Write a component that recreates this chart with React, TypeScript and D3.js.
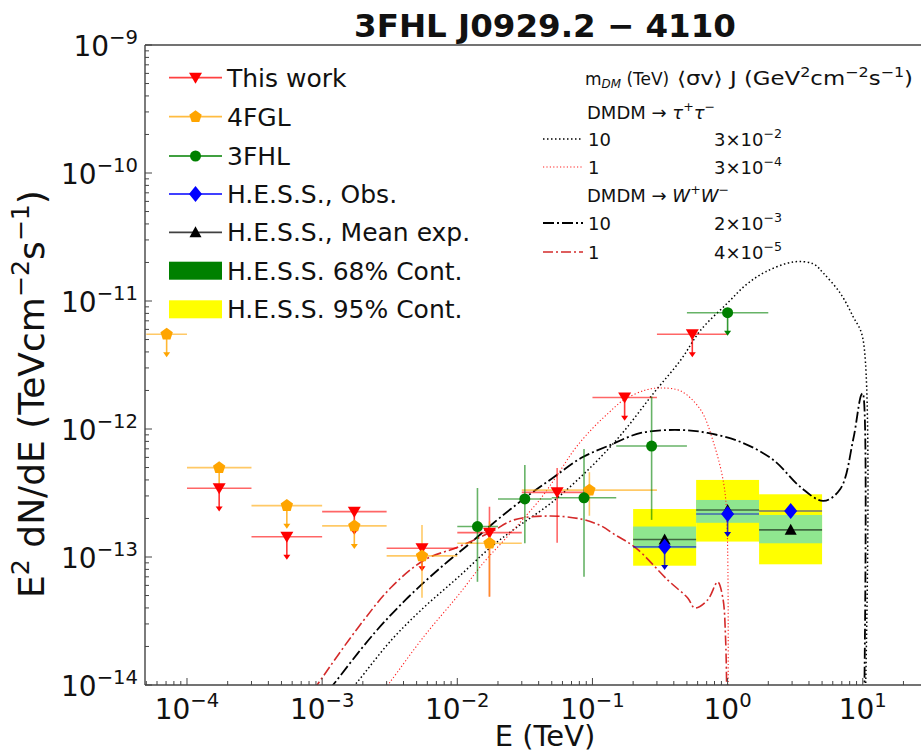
import React from 'react';
import * as d3 from 'd3';

const FONT = '"DejaVu Sans", sans-serif';
const W = 921;
const H = 754;
const plot = { left: 145, right: 945, top: 45, bottom: 685 };

const xDomain = [4.89e-5, 40.6];
const yDomain = [1e-14, 1e-9];

// This work
const twE = [1.73e-4, 5.48e-4, 1.73e-3, 5.48e-3, 1.73e-2, 5.48e-2, 0.173, 0.548];
const twElo = [1e-4, 3e-4, 1e-3, 3e-3, 1e-2, 3e-2, 0.1, 0.3];
const twEhi = [3e-4, 1e-3, 3e-3, 1e-2, 3e-2, 0.1, 0.3, 1];
const twF = [3.44e-13, 1.44e-13, 2.26e-13, 1.17e-13, 1.55e-13, 3.2e-13, 1.76e-12, 5.5e-12];
const twFlo = [null, null, null, null, 4.9e-14, 1.29e-13, null, null];
const twFhi = [null, null, null, null, 2.47e-13, 4.95e-13, null, null];
const twUL = [true, true, true, true, false, false, true, true];

// 4FGL
const fglE = [7.07e-5, 1.73e-4, 5.48e-4, 1.73e-3, 5.48e-3, 1.73e-2, 9.49e-2];
const fglElo = [5e-5, 1e-4, 3e-4, 1e-3, 3e-3, 1e-2, 3e-2];
const fglEhi = [1e-4, 3e-4, 1e-3, 3e-3, 1e-2, 3e-2, 0.3];
const fglF = [5.5e-12, 4.99e-13, 2.52e-13, 1.75e-13, 1.02e-13, 1.28e-13, 3.33e-13];
const fglFlo = [null, null, null, null, 4.8e-14, 4.9e-14, 2.1e-13];
const fglFhi = [null, null, null, null, 1.78e-13, 1.9e-13, 4.6e-13];
const fglUL = [true, true, true, true, false, false, false];

// 3FHL
const fhlE = [1.41e-2, 3.16e-2, 8.66e-2, 0.274, 1.0];
const fhlElo = [0.01, 0.02, 0.05, 0.15, 0.5];
const fhlEhi = [0.02, 0.05, 0.15, 0.5, 2.0];
const fhlF = [1.73e-13, 2.84e-13, 2.9e-13, 7.36e-13, 8.1e-12];
const fhlFlo = [6.4e-14, 1.28e-13, 7.0e-14, 1.95e-13, null];
const fhlFhi = [3.46e-13, 5.24e-13, 6.98e-13, 1.79e-12, null];
const fhlUL = [false, false, false, false, true];

// H.E.S.S.
const hessE = [0.342, 1.0, 2.93];
const hessElo = [0.2, 0.585, 1.71];
const hessEhi = [0.585, 1.71, 5.0];
const hessObs = [1.2e-13, 2.17e-13, 2.29e-13];
const hessObsUL = [true, true, false];
const hessMean = [1.37e-13, 2.33e-13, 1.63e-13];
const hess68lo = [1.17e-13, 1.85e-13, 1.28e-13];
const hess68hi = [1.73e-13, 2.79e-13, 2.13e-13];
const hess95lo = [8.55e-14, 1.32e-13, 8.77e-14];
const hess95hi = [2.37e-13, 4.0e-13, 3.09e-13];

// DM spectra [E (TeV), E^2 dN/dE]
const tau10: [number, number][] = [
  [1.3e-3, 7e-15], [1.8e-3, 1.04e-14], [3.26e-3, 2.25e-14], [5.71e-3, 4.07e-14],
  [1.02e-2, 6.98e-14], [1.78e-2, 1.2e-13], [2.72e-2, 1.69e-13], [4.94e-2, 2.64e-13],
  [9.27e-2, 4.79e-13], [0.162, 8.98e-13], [0.284, 1.91e-12], [0.45, 3.46e-12],
  [0.633, 5.93e-12], [1.0, 9.65e-12], [1.36, 1.33e-11], [1.91, 1.69e-11],
  [3.07, 2.02e-11], [4.31, 1.95e-11], [5.11, 1.65e-11], [6.82, 1.15e-11],
  [8.51, 7.5e-12], [10, 5.14e-12], [10, 1e-15],
];
const tau1: [number, number][] = [
  [2.37e-3, 7e-15], [3.15e-3, 1.04e-14], [5.71e-3, 2.42e-14], [1.02e-2, 5.05e-14],
  [1.58e-2, 9.14e-14], [2.3e-2, 1.41e-13], [3.12e-2, 2.02e-13], [4.17e-2, 2.89e-13],
  [5.56e-2, 4.45e-13], [7.3e-2, 6.85e-13], [9.75e-2, 9.82e-13], [0.131, 1.33e-12],
  [0.171, 1.69e-12], [0.249, 2.02e-12], [0.32, 2.09e-12], [0.45, 1.98e-12],
  [0.632, 1.41e-12], [0.788, 7.78e-13], [0.934, 3.79e-13], [0.99, 1.84e-13], [1.0, 1e-15],
];
const ww10: [number, number][] = [
  [9.3e-4, 7e-15], [1.24e-3, 1.04e-14], [2.44e-3, 2.55e-14], [4.35e-3, 4.87e-14],
  [7.62e-3, 8.35e-14], [1.33e-2, 1.36e-13], [1.78e-2, 1.78e-13], [3.23e-2, 2.94e-13],
  [5.2e-2, 4.22e-13], [8.22e-2, 5.93e-13], [0.13, 7.36e-13], [0.228, 9.31e-13],
  [0.45, 9.82e-13], [0.711, 9.31e-13], [1.25, 7.91e-13], [2.18, 5.73e-13],
  [3.46, 3.52e-13], [5.11, 2.74e-13], [6.82, 3.4e-13], [8.51, 8.35e-13],
  [9.75, 1.85e-12], [10, 1.9e-12], [10, 1e-15],
];
const ww1: [number, number][] = [
  [7.3e-4, 7e-15], [9.42e-4, 1.04e-14], [1.86e-3, 2.84e-14], [3.26e-3, 5.83e-14],
  [5.71e-3, 9.48e-14], [1.02e-2, 1.2e-13], [1.78e-2, 1.57e-13], [2.63e-2, 1.95e-13],
  [4.78e-2, 2.09e-13], [8.22e-2, 1.98e-13], [0.116, 1.75e-13], [0.144, 1.51e-13],
  [0.209, 1.18e-13], [0.361, 6.6e-14], [0.507, 4.78e-14], [0.571, 4.0e-14],
  [0.711, 4.61e-14], [0.844, 6.38e-14], [0.919, 4.87e-14], [0.967, 2.25e-14], [1.0, 1e-15],
];

const UL_DROP = 0.66;

const x = d3.scaleLog().domain(xDomain).range([plot.left, plot.right]);
const y = d3.scaleLog().domain(yDomain).range([plot.bottom, plot.top]);

type Seg = { t: string; sup?: boolean; sub?: boolean; it?: boolean };

function Rich({ x, y, size, segs, anchor = 'start', weight, transform, fit }: any) {
  let cur = 0;
  return (
    <text x={x} y={y} fontSize={size} textAnchor={anchor} fontFamily={FONT}
      fontWeight={weight} fill="#111" transform={transform}
      textLength={fit} lengthAdjust={fit ? 'spacingAndGlyphs' : undefined}>
      {segs.map((s: Seg, i: number) => {
        const target = s.sup ? -size * 0.42 : s.sub ? size * 0.2 : 0;
        const dy = target - cur;
        cur = target;
        return (
          <tspan key={i} dy={dy} fontSize={s.sup || s.sub ? size * 0.7 : size}
            fontStyle={s.it ? 'italic' : undefined}>{s.t}</tspan>
        );
      })}
    </text>
  );
}

function Marker({ type, cx, cy, color }: any) {
  if (type === 'o') return <circle cx={cx} cy={cy} r={5.5} fill={color} />;
  let d = '';
  if (type === 'v') d = 'M-6.5,-5L6.5,-5L0,6Z';
  if (type === '^') d = 'M0,-6L6,5L-6,5Z';
  if (type === 'D') d = 'M0,-8L6.5,0L0,8L-6.5,0Z';
  if (type === 'p') {
    d = d3.range(5).map(k => {
      const a = -Math.PI / 2 + (k * 2 * Math.PI) / 5;
      return `${k ? 'L' : 'M'}${(6.5 * Math.cos(a)).toFixed(2)},${(6.5 * Math.sin(a)).toFixed(2)}`;
    }).join('') + 'Z';
  }
  return <path d={d} transform={`translate(${cx},${cy})`} fill={color} />;
}

function ErrSeries({ E, Elo, Ehi, F, Flo, Fhi, UL, barColor, barOpacity = 0.6 }: any) {
  return (
    <g>
      {E.map((e: number, i: number) => {
        const cx = x(e), cy = y(F[i]);
        const tip = y(F[i] * UL_DROP);
        return (
          <g key={i}>
            <line x1={x(Elo[i])} x2={x(Ehi[i])} y1={cy} y2={cy} stroke={barColor}
              strokeOpacity={barOpacity} strokeWidth={1.6} />
            {Flo && Flo[i] != null && (
              <line x1={cx} x2={cx} y1={y(Flo[i])} y2={y(Fhi[i])} stroke={barColor}
                strokeOpacity={barOpacity} strokeWidth={1.6} />
            )}
            {UL[i] && (
              <g>
                <line x1={cx} x2={cx} y1={cy} y2={tip - 4} stroke={barColor}
                  strokeOpacity={barOpacity + 0.2} strokeWidth={1.6} />
                <path d={`M${cx - 3.5},${tip - 5}L${cx + 3.5},${tip - 5}L${cx},${tip}Z`} fill={barColor} />
              </g>
            )}
          </g>
        );
      })}
    </g>
  );
}

function Markers({ E, F, color, marker }: any) {
  return <g>{E.map((e: number, i: number) => <Marker key={i} type={marker} cx={x(e)} cy={y(F[i])} color={color} />)}</g>;
}

const line = d3.line<[number, number]>()
  .x(d => x(d[0]))
  .y(d => y(d[1]))
  .curve(d3.curveCatmullRom.alpha(0.5));

const styles = {
  tau10: { stroke: '#000', width: 1.5, dash: '1.5,2.5' },
  tau1: { stroke: '#ff2020', width: 1.1, dash: '1.2,2.2' },
  ww10: { stroke: '#000', width: 1.8, dash: '11,3,2,3' },
  ww1: { stroke: '#d42a2a', width: 1.6, dash: '10,3,2,3' },
};

function expSegs(k: number): Seg[] {
  return [{ t: '10' }, { t: (k < 0 ? '\u2212' : '') + Math.abs(k), sup: true }];
}

export default function App() {
  const xt = x.ticks();
  const yt = y.ticks();
  const isMajor = (v: number) => Math.abs(Math.log10(v) - Math.round(Math.log10(v))) < 1e-6;
  const xMajor = xt.filter(isMajor);
  const yMajor = yt.filter(isMajor);

  const legendRows = [
    { label: 'This work', color: 'red', marker: 'v' },
    { label: '4FGL', color: 'orange', marker: 'p' },
    { label: '3FHL', color: 'green', marker: 'o' },
    { label: 'H.E.S.S., Obs.', color: 'blue', marker: 'D' },
    { label: 'H.E.S.S., Mean exp.', color: 'black', marker: '^' },
    { label: 'H.E.S.S. 68% Cont.', patch: '#008000' },
    { label: 'H.E.S.S. 95% Cont.', patch: '#ffff00' },
  ];
  const legY = [77.7, 116.7, 156, 194, 232.3, 270.7, 309.3];

  const dmRows = [
    { y: 139, style: styles.tau10, m: '10', v: '3\u00d710', e: '\u22122' },
    { y: 167, style: styles.tau1, m: '1', v: '3\u00d710', e: '\u22124' },
    { y: 223, style: styles.ww10, m: '10', v: '2\u00d710', e: '\u22123' },
    { y: 252, style: styles.ww1, m: '1', v: '4\u00d710', e: '\u22125' },
  ];

  return (
    <svg width={W} height={H} style={{ position: 'absolute', left: 0, top: 0, background: '#fff' }}
      fontFamily={FONT}>
      <defs>
        <clipPath id="plotClip">
          <rect x={plot.left} y={plot.top} width={plot.right - plot.left} height={plot.bottom - plot.top} />
        </clipPath>
      </defs>
      <rect width={W} height={H} fill="#fff" />

      <g clipPath="url(#plotClip)">
        {/* H.E.S.S. containment bands */}
        {hessE.map((e, i) => (
          <g key={i}>
            <rect x={x(hessElo[i])} width={x(hessEhi[i]) - x(hessElo[i])}
              y={y(hess95hi[i])} height={y(hess95lo[i]) - y(hess95hi[i])} fill="#ffff00" />
            <rect x={x(hessElo[i])} width={x(hessEhi[i]) - x(hessElo[i])}
              y={y(hess68hi[i])} height={y(hess68lo[i]) - y(hess68hi[i])} fill="#8fe68f" />
          </g>
        ))}

        {/* DM curves */}
        {[['tau10', tau10], ['tau1', tau1], ['ww10', ww10], ['ww1', ww1]].map(([k, data]: any) => {
          const s = (styles as any)[k];
          return <path key={k} d={line(data) || ''} fill="none" stroke={s.stroke}
            strokeWidth={s.width} strokeDasharray={s.dash} />;
        })}

        {/* error bars */}
        <ErrSeries E={twE} Elo={twElo} Ehi={twEhi} F={twF} Flo={twFlo} Fhi={twFhi} UL={twUL} barColor="#ff0000" />
        <ErrSeries E={fglE} Elo={fglElo} Ehi={fglEhi} F={fglF} Flo={fglFlo} Fhi={fglFhi} UL={fglUL} barColor="#ffa500" />
        <ErrSeries E={fhlE} Elo={fhlElo} Ehi={fhlEhi} F={fhlF} Flo={fhlFlo} Fhi={fhlFhi} UL={fhlUL} barColor="#008000" />
        <ErrSeries E={hessE} Elo={hessElo} Ehi={hessEhi} F={hessMean} UL={[false, false, false]} barColor="#000" barOpacity={0.55} />
        <ErrSeries E={hessE} Elo={hessElo} Ehi={hessEhi} F={hessObs} UL={hessObsUL} barColor="#0000cc" barOpacity={0.55} />

        {/* markers */}
        <Markers E={twE} F={twF} color="#ff0000" marker="v" />
        <Markers E={fglE} F={fglF} color="#ffa500" marker="p" />
        <Markers E={fhlE} F={fhlF} color="#008000" marker="o" />
        <Markers E={hessE} F={hessMean} color="#000" marker="^" />
        <Markers E={hessE} F={hessObs} color="#0000ff" marker="D" />
      </g>

      {/* spines */}
      <g stroke="#444" strokeWidth={1.4} fill="none">
        <line x1={plot.left} x2={plot.left} y1={plot.top} y2={plot.bottom} />
        <line x1={plot.left} x2={plot.right} y1={plot.bottom} y2={plot.bottom} />
        <line x1={plot.left} x2={plot.right} y1={plot.top} y2={plot.top} />
        <line x1={plot.right} x2={plot.right} y1={plot.top} y2={plot.bottom} />
      </g>

      {/* ticks */}
      <g stroke="#444" strokeWidth={1}>
        {xt.map((v, i) => (
          <line key={'xt' + i} x1={x(v)} x2={x(v)} y1={plot.bottom} y2={plot.bottom - (isMajor(v) ? 7 : 4)} />
        ))}
        {yt.map((v, i) => (
          <line key={'yt' + i} x1={plot.left} x2={plot.left + (isMajor(v) ? 7 : 4)} y1={y(v)} y2={y(v)} />
        ))}
      </g>
      {xMajor.map((v, i) => (
        <Rich key={'xl' + i} x={x(v)} y={719} size={28} anchor="middle" segs={expSegs(Math.round(Math.log10(v)))} />
      ))}
      {yMajor.map((v, i) => (
        <Rich key={'yl' + i} x={138} y={y(v) + 11} size={28} anchor="end" segs={expSegs(Math.round(Math.log10(v)))} />
      ))}

      {/* axis labels and title */}
      <Rich x={545} y={746} size={29} anchor="middle" segs={[{ t: 'E (TeV)' }]} />
      <Rich x={0} y={0} size={36} anchor="middle" transform="translate(44,394) rotate(-90)"
        segs={[{ t: 'E' }, { t: '2', sup: true }, { t: ' dN/dE (TeVcm' }, { t: '\u22122', sup: true },
          { t: 's' }, { t: '\u22121', sup: true }, { t: ')' }]} />
      <Rich x={545} y={37} size={32.5} anchor="middle" weight="bold" segs={[{ t: '3FHL J0929.2 \u2212 4110' }]} />

      {/* left legend */}
      {legendRows.map((r: any, i) => {
        const cy = legY[i];
        return (
          <g key={i}>
            {r.patch ? (
              <rect x={169} y={cy - 9} width={53} height={18} fill={r.patch} />
            ) : (
              <g>
                <line x1={169} x2={222} y1={cy} y2={cy} stroke={r.color} strokeWidth={1.8} strokeOpacity={0.75} />
                <Marker type={r.marker} cx={195.5} cy={cy} color={r.color} />
              </g>
            )}
            <Rich x={227} y={cy + 9} size={25} segs={[{ t: r.label }]} />
          </g>
        );
      })}

      {/* right legend (DM models) */}
      <Rich x={585} y={85} size={17} segs={[{ t: 'm' }, { t: 'DM', sub: true, it: true }, { t: ' (TeV)' }]} />
      <Rich x={677} y={85} size={19} fit={236} segs={[{ t: '\u27e8\u03c3v\u27e9 J (GeV' }, { t: '2', sup: true }, { t: 'cm' },
        { t: '\u22122', sup: true }, { t: 's' }, { t: '\u22121', sup: true }, { t: ')' }]} />
      <Rich x={587} y={119} size={18} segs={[{ t: 'DMDM \u2192 ' }, { t: '\u03c4', it: true }, { t: '+', sup: true },
        { t: '\u03c4', it: true }, { t: '\u2212', sup: true }]} />
      <Rich x={587} y={202} size={18} segs={[{ t: 'DMDM \u2192 ' }, { t: 'W', it: true }, { t: '+', sup: true },
        { t: 'W', it: true }, { t: '\u2212', sup: true }]} />
      {dmRows.map((r, i) => (
        <g key={i}>
          <line x1={543} x2={583} y1={r.y} y2={r.y} stroke={r.style.stroke} strokeWidth={r.style.width}
            strokeDasharray={r.style.dash} />
          <Rich x={588} y={r.y + 7} size={18} segs={[{ t: r.m }]} />
          <Rich x={714} y={r.y + 7} size={18} segs={[{ t: r.v }, { t: r.e, sup: true }]} />
        </g>
      ))}
    </svg>
  );
}
